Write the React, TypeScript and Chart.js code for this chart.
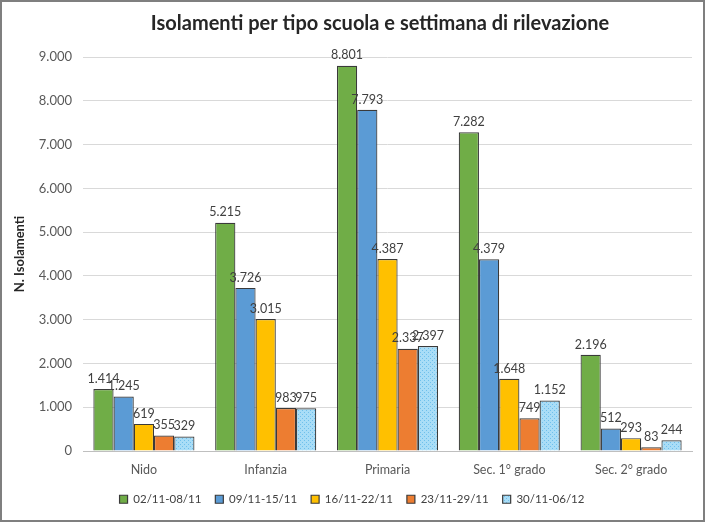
import React, { useEffect, useRef } from "react";
import { Chart, registerables } from "chart.js";

Chart.register(...registerables);

const categories = ["Nido", "Infanzia", "Primaria", "Sec. 1° grado", "Sec. 2° grado"];
const seriesNames = ["02/11-08/11", "09/11-15/11", "16/11-22/11", "23/11-29/11", "30/11-06/12"];
const week1 = [1414, 5215, 8801, 7282, 2196];
const week2 = [1245, 3726, 7793, 4379, 512];
const week3 = [619, 3015, 4387, 1648, 293];
const week4 = [355, 983, 2337, 749, 83];
const week5 = [329, 975, 2397, 1152, 244];
const yTicks = [0, 1000, 2000, 3000, 4000, 5000, 6000, 7000, 8000, 9000];

const colors = ["#70AD47", "#5B9BD5", "#FFC000", "#ED7D31", "#9DD6F5"];
const FONT = "Lato, 'Open Sans', sans-serif";

function fmt(v: number): string {
  const s = Math.round(v).toString();
  return s.replace(/\B(?=(\d{3})+(?!\d))/g, ".");
}

function makePattern(): CanvasPattern | string {
  const c = document.createElement("canvas");
  c.width = 4;
  c.height = 4;
  const g = c.getContext("2d");
  if (!g) return colors[4];
  g.fillStyle = "#A9DDF7";
  g.fillRect(0, 0, 4, 4);
  g.fillStyle = "#6FC0EC";
  g.fillRect(0, 0, 1, 1);
  g.fillRect(2, 2, 1, 1);
  const p = g.createPattern(c, "repeat");
  return p || colors[4];
}

const dataLabels = {
  id: "dataLabels",
  afterDatasetsDraw(chart: any) {
    const ctx = chart.ctx;
    ctx.save();
    ctx.font = `12.5px ${FONT}`;
    ctx.fillStyle = "#404040";
    ctx.textAlign = "center";
    ctx.textBaseline = "bottom";
    chart.data.datasets.forEach((ds: any, i: number) => {
      const meta = chart.getDatasetMeta(i);
      meta.data.forEach((el: any, j: number) => {
        ctx.fillText(fmt(ds.data[j]), el.x, el.y - 4);
      });
    });
    ctx.restore();
  },
};

const titleShift = {
  id: "titleShift",
  afterLayout(chart: any) {
    const t = chart.titleBlock;
    if (t) {
      t.left += 28;
      t.right += 28;
    }
  },
};

export default function App() {
  const ref = useRef<HTMLCanvasElement>(null);
  useEffect(() => {
    if (!ref.current) return;
    const pattern = makePattern();
    const seriesData = [week1, week2, week3, week4, week5];
    const chart = new Chart(ref.current, {
      type: "bar",
      data: {
        labels: categories,
        datasets: seriesData.map((d, i) => ({
          label: seriesNames[i],
          data: d,
          backgroundColor: i === 4 ? (pattern as any) : colors[i],
          borderColor: "#3A3A3A",
          borderWidth: 1.2,
          barPercentage: 1.0,
          categoryPercentage: 0.83,
        })),
      },
      options: {
        responsive: false,
        animation: false,
        layout: { padding: { left: 10, right: 11, top: 4, bottom: 5 } },
        plugins: {
          title: {
            display: true,
            text: "Isolamenti per tipo scuola e settimana di rilevazione",
            color: "#262626",
            font: { family: FONT, size: 20, weight: "bold" },
            padding: { top: 6, bottom: 21 },
          },
          legend: {
            position: "bottom",
            labels: {
              boxWidth: 8,
              boxHeight: 8,
              color: "#404040",
              padding: 14,
              font: { family: FONT, size: 11.5 },
            },
          },
          tooltip: { enabled: false },
        },
        scales: {
          x: {
            afterFit: (axis: any) => {
              axis.height = 28.5;
            },
            grid: { display: false, drawTicks: false },
            border: { color: "#BFBFBF" },
            ticks: { color: "#595959", font: { family: FONT, size: 12.5 }, padding: 11 },
          },
          y: {
            min: 0,
            max: 9000,
            afterBuildTicks: (axis: any) => {
              axis.ticks = yTicks.map((v) => ({ value: v }));
            },
            afterFit: (axis: any) => {
              axis.width = 71;
            },
            grid: { color: "#D9D9D9", drawTicks: false },
            border: { display: false },
            ticks: {
              color: "#595959",
              font: { family: FONT, size: 13 },
              padding: 11,
              callback: (v: any) => fmt(Number(v)),
            },
            title: {
              display: true,
              text: "N. Isolamenti",
              color: "#262626",
              font: { family: FONT, size: 13, weight: "bold" },
              padding: { top: 0, bottom: 2 },
            },
          },
        },
      },
      plugins: [dataLabels, titleShift],
    });
    return () => chart.destroy();
  }, []);

  return (
    <div
      style={{
        position: "absolute",
        left: 0,
        top: 0,
        width: 705,
        height: 522,
        boxSizing: "border-box",
        border: "2px solid #7F7F7F",
        background: "#FFFFFF",
      }}
    >
      <canvas ref={ref} width={701} height={518} style={{ display: "block" }} />
    </div>
  );
}
